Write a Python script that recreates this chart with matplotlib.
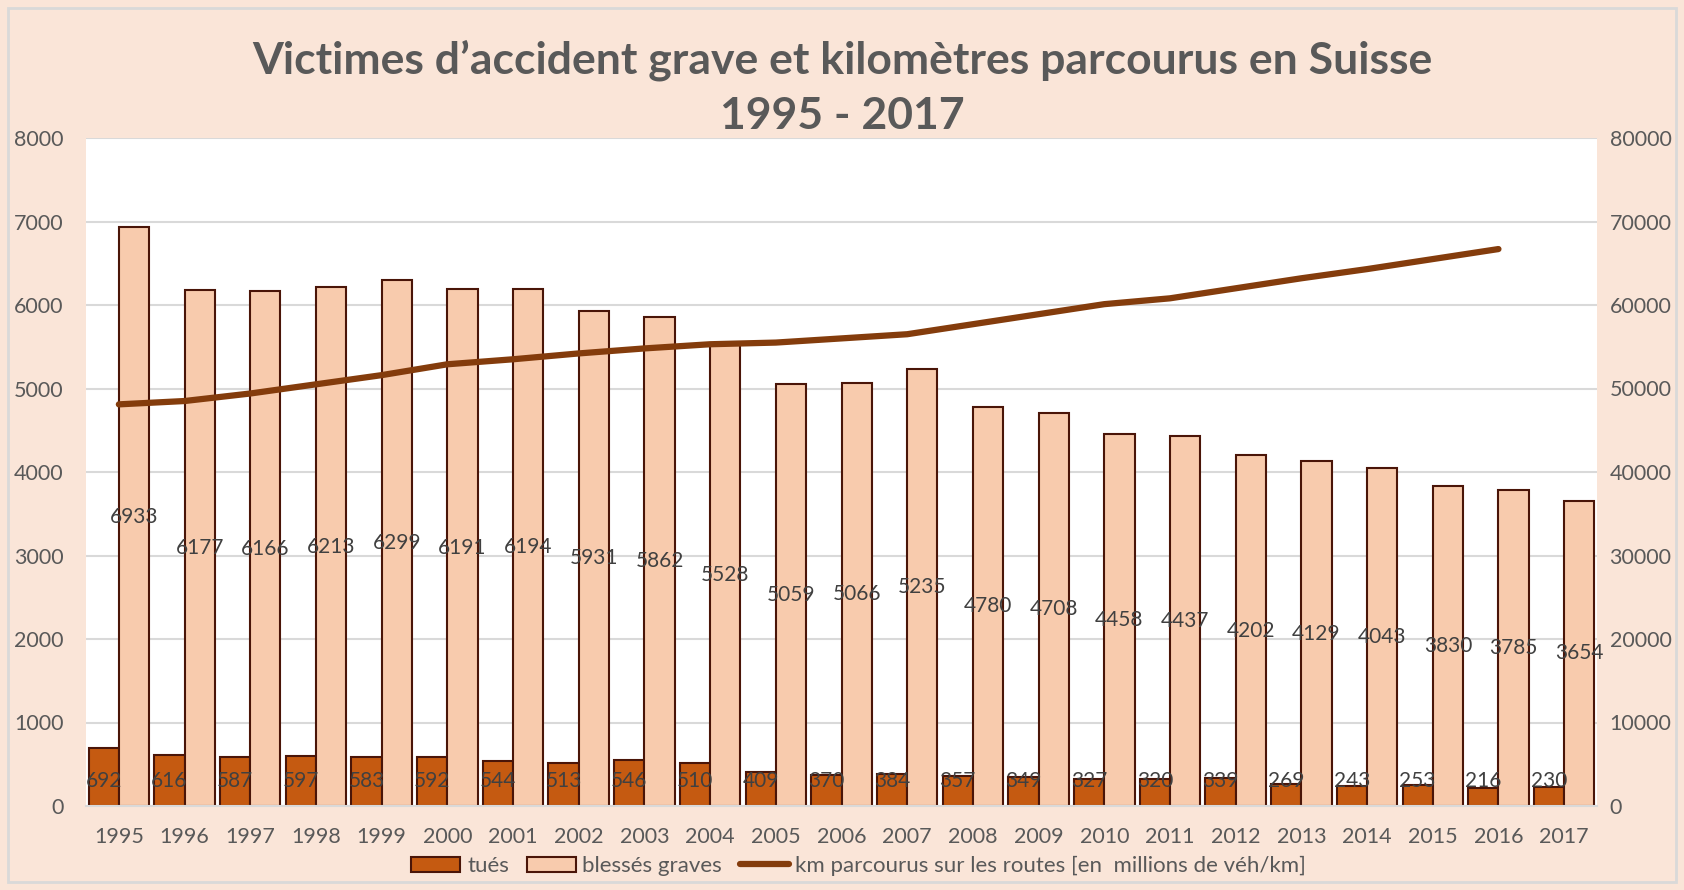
import numpy as np
import matplotlib.pyplot as plt

# Données
annees = [str(a) for a in range(1995, 2018)]
tues = [692, 616, 587, 597, 583, 592, 544, 513, 546, 510, 409, 370, 384,
        357, 349, 327, 320, 339, 269, 243, 253, 216, 230]
blesses = [6933, 6177, 6166, 6213, 6299, 6191, 6194, 5931, 5862, 5528, 5059,
           5066, 5235, 4780, 4708, 4458, 4437, 4202, 4129, 4043, 3830, 3785, 3654]
# km parcourus (millions), pas de valeur pour 2017
km = [48100, 48500, 49400, 50500, 51600, 52900, 53500, 54200, 54800, 55300,
      55500, 56000, 56500, 57700, 58900, 60100, 60800, 62000, 63200, 64300,
      65500, 66700]

plt.rcParams['font.family'] = ['Lato', 'DejaVu Sans']

fond = '#FAE5D8'
gris = '#595959'
c_tues = '#C55A11'
c_bles = '#F8CBAD'
c_bord = '#4A1508'
c_ligne = '#843C0C'

fig = plt.figure(figsize=(16.84, 8.90), dpi=100, facecolor=fond)
ax = fig.add_axes([86 / 1684, 1 - 806 / 890, (1597 - 86) / 1684, (806 - 138) / 890])
ax.set_facecolor('white')

x = np.arange(len(annees))
w = 0.46
b1 = ax.bar(x - w / 2, tues, w, color=c_tues, edgecolor=c_bord, linewidth=1.5,
            label='tués', zorder=2)
b2 = ax.bar(x + w / 2, blesses, w, color=c_bles, edgecolor=c_bord, linewidth=1.5,
            label='blessés graves', zorder=2)

# étiquettes : tués près de la base, blessés au milieu de la barre
for xi, v in zip(x, tues):
    ax.text(xi - w / 2, 305, str(v), ha='center', va='center', fontsize=15,
            color='#404040', zorder=4)
for xi, v in zip(x, blesses):
    ax.text(xi + w / 2, v / 2, str(v), ha='center', va='center', fontsize=15,
            color='#404040', zorder=4)

ax.set_ylim(0, 8000)
ax.set_yticks(range(0, 8001, 1000))
ax.set_xlim(-0.5, len(annees) - 0.5)
ax.set_xticks(x)
ax.set_xticklabels(annees)
ax.grid(axis='y', color='#D9D9D9', linewidth=1.5, zorder=0)
ax.set_axisbelow(True)
for s in ['top', 'left', 'right']:
    ax.spines[s].set_visible(False)
ax.spines['bottom'].set_color('#D9D9D9')
ax.spines['bottom'].set_linewidth(1.5)
ax.tick_params(length=0, labelsize=15.5, labelcolor=gris, pad=16)
ax.tick_params(axis='x', pad=15)

ax2 = ax.twinx()
ln, = ax2.plot(x[:len(km)], km, color=c_ligne, linewidth=4.5,
               solid_capstyle='round', zorder=3,
               label='km parcourus sur les routes [en  millions de véh/km]')
ax2.set_ylim(0, 80000)
ax2.set_yticks(range(0, 80001, 10000))
for s in ax2.spines.values():
    s.set_visible(False)
ax2.tick_params(length=0, labelsize=15.5, labelcolor=gris, pad=9)

fig.text(0.5, 1 - 60 / 890, 'Victimes d\u2019accident grave et kilomètres parcourus en Suisse',
         ha='center', va='center', fontsize=32, fontweight='bold', color=gris)
fig.text(0.5, 1 - 116 / 890, '1995 - 2017', ha='center', va='center',
         fontsize=32, fontweight='bold', color=gris)

leg = fig.legend(handles=[b1, b2, ln], loc='center', bbox_to_anchor=(0.51, 1 - 866 / 890),
                 ncol=3, frameon=False, fontsize=16, handlelength=2.2,
                 handletextpad=0.3, columnspacing=0.8, labelcolor=gris)

# cadre extérieur
fig.patches.append(plt.Rectangle((8 / 1684, 8 / 890), 1 - 16 / 1684, 1 - 16 / 890,
                                 transform=fig.transFigure, fill=False,
                                 edgecolor='#D9D9D9', linewidth=2))

fig.savefig('out.png', dpi=100, facecolor=fond)
